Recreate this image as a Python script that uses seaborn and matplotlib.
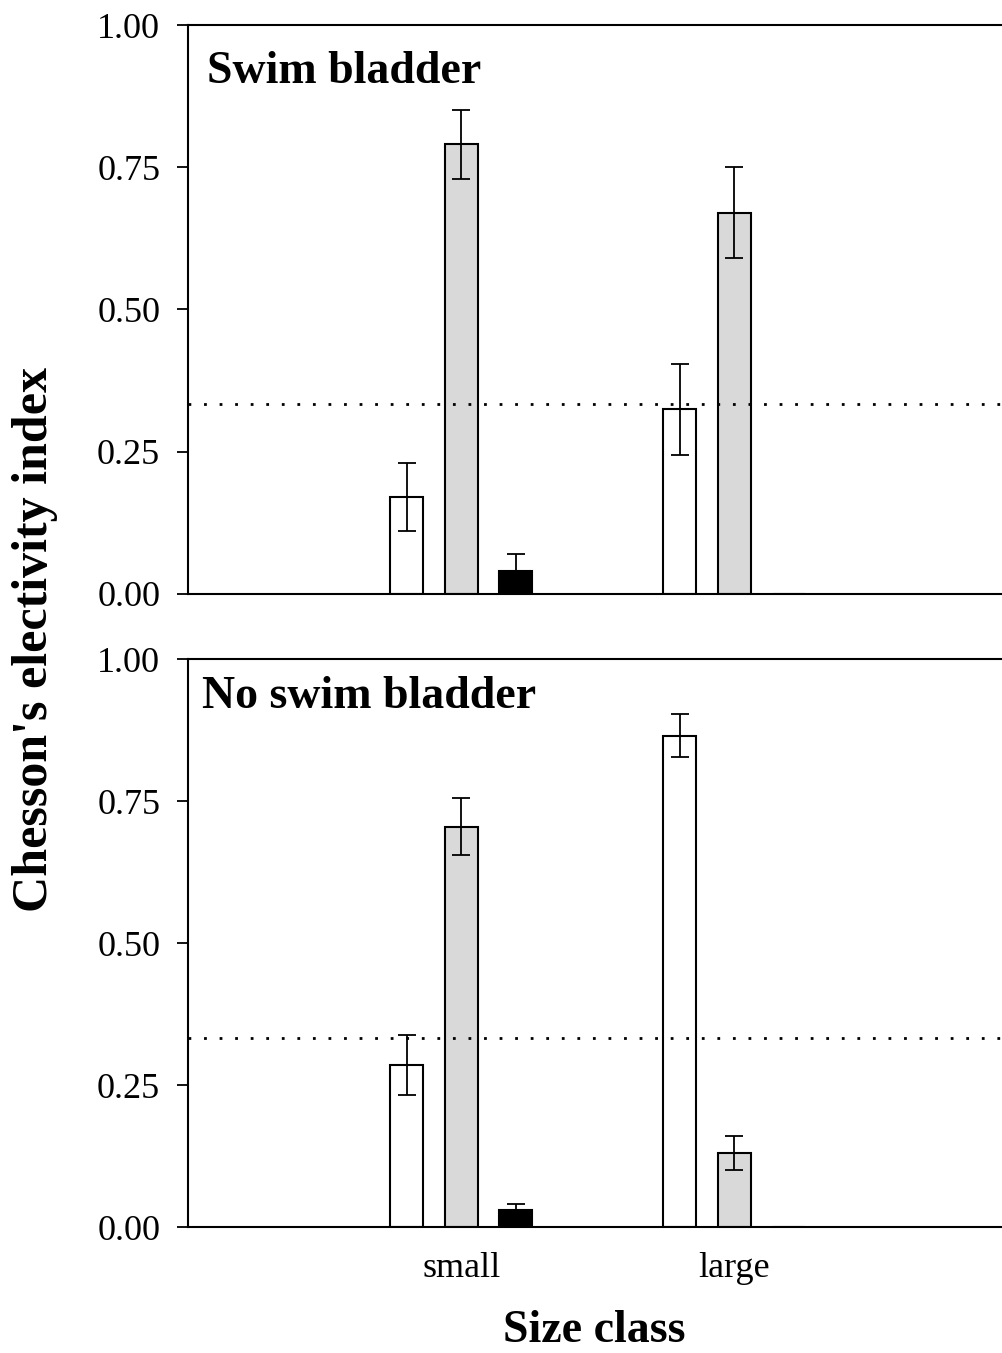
import numpy as np
import pandas as pd
import matplotlib
matplotlib.use("Agg")
import matplotlib.pyplot as plt
import seaborn as sns

# ---- data ----
size_classes = ["small", "large"]
series = ["white", "grey", "black"]
panels = ["Swim bladder", "No swim bladder"]

swim_small = [0.17, 0.79, 0.04]
swim_small_err = [0.06, 0.06, 0.03]
swim_large = [0.325, 0.67, 0.0]
swim_large_err = [0.08, 0.08, 0.0]

noswim_small = [0.285, 0.705, 0.03]
noswim_small_err = [0.053, 0.05, 0.01]
noswim_large = [0.865, 0.13, 0.0]
noswim_large_err = [0.038, 0.03, 0.0]

random_level = 1.0 / 3.0
y_ticks = [0.00, 0.25, 0.50, 0.75, 1.00]

rows = []
for panel, sm, sme, lg, lge in [
    (panels[0], swim_small, swim_small_err, swim_large, swim_large_err),
    (panels[1], noswim_small, noswim_small_err, noswim_large, noswim_large_err),
]:
    for s, v, e in zip(series, sm, sme):
        rows.append(dict(panel=panel, size="small", series=s, value=v, err=e))
    for s, v, e in zip(series, lg, lge):
        rows.append(dict(panel=panel, size="large", series=s, value=v, err=e))
df = pd.DataFrame(rows)

sns.set_theme(style="white")
plt.rcParams["font.family"] = ["Liberation Serif", "DejaVu Serif"]
plt.rcParams["text.color"] = "black"
plt.rcParams["axes.labelcolor"] = "black"
plt.rcParams["xtick.color"] = "black"
plt.rcParams["ytick.color"] = "black"

fig = plt.figure(figsize=(10.02, 13.53), dpi=100)
W, H = 1002, 1353
left = 188 / W
right = 1.0
boxes = [(25, 594), (659, 1227)]
axes = []
for top_px, bot_px in boxes:
    ax = fig.add_axes([left, 1 - bot_px / H, right - left, (bot_px - top_px) / H])
    axes.append(ax)

palette = {"white": "white", "grey": "#d9d9d9", "black": "black"}

for ax, panel in zip(axes, panels):
    sub = df[df.panel == panel]
    sns.barplot(data=sub, x="size", y="value", hue="series", order=size_classes,
                hue_order=series, palette=palette, width=0.6, gap=0.4,
                edgecolor="black", linewidth=1.5, errorbar=None, legend=False, ax=ax)
    bars = list(ax.patches)
    # seaborn draws bars per hue level, each over the category order
    idx = 0
    for s in series:
        for sc in size_classes:
            r = sub[(sub["series"] == s) & (sub["size"] == sc)].iloc[0]
            p = bars[idx]
            idx += 1
            if r["err"] > 0:
                xc = p.get_x() + p.get_width() / 2
                ax.errorbar(xc, r["value"], yerr=r["err"], fmt="none",
                            ecolor="black", elinewidth=1.3, capsize=6.5, capthick=1.3,
                            zorder=5)
    ax.axhline(random_level, color="black", linewidth=2.0,
               linestyle=(0, (1, 4.6)), zorder=4)
    ax.set_xlim(-1, 1.98)
    ax.set_ylim(0, 1.0)
    ax.set_yticks(y_ticks)
    ax.set_yticklabels([f"{t:.2f}" for t in y_ticks], fontsize=26, color="black")
    ax.set_xlabel("")
    ax.set_ylabel("")
    ax.tick_params(axis="y", direction="out", length=8, width=1.3, pad=12,
                   left=True, colors="black")
    ax.tick_params(axis="x", length=0, pad=18, labelsize=26, colors="black")
    for side in ["left", "bottom", "top"]:
        ax.spines[side].set_visible(True)
        ax.spines[side].set_color("black")
        ax.spines[side].set_linewidth(1.5)
    ax.spines["right"].set_visible(False)
    ax.set_facecolor("white")

axes[0].set_xticks([])
axes[1].set_xticks(range(len(size_classes)))
axes[1].set_xticklabels(size_classes, fontsize=26, color="black")

axes[0].text(0.023, 0.917, panels[0], transform=axes[0].transAxes,
             fontsize=33, fontweight="bold", va="center", ha="left", color="black")
axes[1].text(0.017, 0.933, panels[1], transform=axes[1].transAxes,
             fontsize=33, fontweight="bold", va="center", ha="left", color="black")

fig.text(35 / W, 1 - 640 / H, "Chesson's electivity index", rotation=90,
         fontsize=36, fontweight="bold", ha="center", va="center", color="black")
fig.text(594 / W, 1 - 1331 / H, "Size class", fontsize=33, fontweight="bold",
         ha="center", va="center", color="black")

fig.savefig("out.png", dpi=100, facecolor="white")
